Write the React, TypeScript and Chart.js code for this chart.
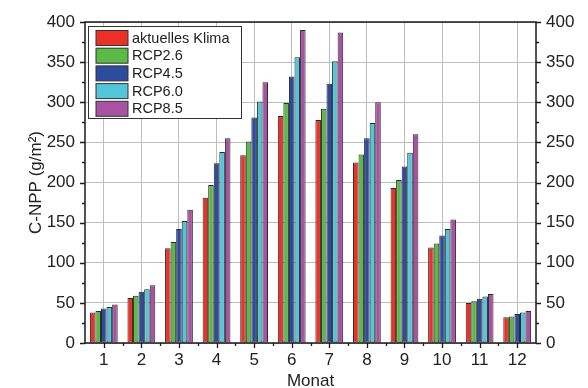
import React, { useEffect, useRef } from "react";
import { Chart, registerables } from "chart.js";

Chart.register(...registerables);

const months = ["1", "2", "3", "4", "5", "6", "7", "8", "9", "10", "11", "12"];
const seriesNames = ["aktuelles Klima", "RCP2.6", "RCP4.5", "RCP6.0", "RCP8.5"];
const seriesColors = ["#EC3127", "#5DB947", "#2E4C9E", "#52C5DA", "#A752A2"];
const aktuell = [38, 56, 118, 181, 234, 283, 278, 225, 193, 119, 50, 32];
const rcp26 = [40, 59, 126, 197, 251, 299, 292, 235, 203, 124, 52, 33];
const rcp45 = [43, 64, 142, 224, 281, 332, 323, 255, 220, 134, 55, 36];
const rcp60 = [45, 67, 152, 238, 301, 356, 351, 274, 237, 142, 58, 38];
const rcp85 = [48, 72, 166, 255, 325, 390, 387, 300, 260, 154, 61, 40];
const seriesValues = [aktuell, rcp26, rcp45, rcp60, rcp85];
const yTicks = [0, 50, 100, 150, 200, 250, 300, 350, 400];
const yMinorTicks = [25, 75, 125, 175, 225, 275, 325, 375];

const FONT = "'Liberation Sans', Arial, sans-serif";

const framePlugin = {
  id: "frameTicks",
  afterDraw(chart: any) {
    const ctx = chart.ctx;
    const { left, right, top, bottom } = chart.chartArea;
    const y = chart.scales.y;
    const x = chart.scales.x;
    ctx.save();
    ctx.strokeStyle = "#1a1a1a";
    ctx.lineWidth = 1.3;
    ctx.beginPath();
    for (const v of yTicks) {
      const py = Math.round(y.getPixelForValue(v)) + 0.5;
      ctx.moveTo(left - 5, py);
      ctx.lineTo(left, py);
      ctx.moveTo(right, py);
      ctx.lineTo(right + 5, py);
    }
    for (const v of yMinorTicks) {
      const py = Math.round(y.getPixelForValue(v)) + 0.5;
      ctx.moveTo(left - 3, py);
      ctx.lineTo(left, py);
      ctx.moveTo(right, py);
      ctx.lineTo(right + 3, py);
    }
    for (let i = 0; i < months.length; i++) {
      const px = Math.round(x.getPixelForValue(i)) + 0.5;
      ctx.moveTo(px, bottom);
      ctx.lineTo(px, bottom + 5);
      if (i > 0) {
        const pm = Math.round(x.getPixelForValue(i - 0.5)) + 0.5;
        ctx.moveTo(pm, bottom);
        ctx.lineTo(pm, bottom + 3);
      }
    }
    ctx.stroke();
    ctx.lineWidth = 1.5;
    ctx.strokeRect(left, top, right - left, bottom - top);

    // legend
    const lx = 88.5, ly = 26.5, lw = 153, lh = 92;
    ctx.fillStyle = "#ffffff";
    ctx.fillRect(lx, ly, lw, lh);
    ctx.strokeStyle = "#333333";
    ctx.lineWidth = 1;
    ctx.strokeRect(lx, ly, lw, lh);
    ctx.font = `14.5px ${FONT}`;
    ctx.textBaseline = "middle";
    ctx.textAlign = "left";
    for (let i = 0; i < seriesNames.length; i++) {
      const sy = 30.5 + i * 17.7;
      ctx.fillStyle = seriesColors[i];
      ctx.fillRect(96, sy, 32, 15);
      ctx.strokeStyle = "#333333";
      ctx.strokeRect(96, sy, 32, 15);
      ctx.fillStyle = "#222222";
      ctx.fillText(seriesNames[i], 132, sy + 8);
    }
    ctx.restore();
  },
};

export default function App() {
  const ref = useRef<HTMLCanvasElement | null>(null);
  useEffect(() => {
    if (!ref.current) return;
    const chart = new Chart(ref.current, {
      type: "bar",
      data: {
        labels: months,
        datasets: seriesNames.map((name, i) => ({
          label: name,
          data: seriesValues[i],
          backgroundColor: seriesColors[i],
          borderColor: "#2a2a2a",
          borderWidth: 1,
          borderSkipped: false,
          categoryPercentage: 0.74,
          barPercentage: 1.0,
          yAxisID: "y",
        })),
      },
      options: {
        animation: false,
        responsive: true,
        maintainAspectRatio: false,
        layout: { padding: { top: 22, left: 0, right: 0, bottom: 0 } },
        plugins: {
          legend: { display: false },
          tooltip: { enabled: false },
        },
        scales: {
          x: {
            offset: true,
            grid: { offset: false, color: "#bdbdbd", lineWidth: 1, drawTicks: false },
            border: { display: false },
            ticks: { color: "#222", font: { family: FONT, size: 17 }, padding: 7, maxRotation: 0, autoSkip: false },
            title: { display: true, text: "Monat", color: "#222", font: { family: FONT, size: 17 }, padding: { top: 0, bottom: -4 } },
            afterFit: (s: any) => { s.height = 45; },
          },
          y: {
            position: "left",
            min: 0,
            max: 400,
            grid: { color: "#bdbdbd", lineWidth: 1, drawTicks: false },
            border: { display: false },
            ticks: { stepSize: 50, color: "#222", font: { family: FONT, size: 17 }, padding: 10 },
            title: { display: true, text: "C-NPP (g/m²)", color: "#222", font: { family: FONT, size: 17 }, padding: { top: 26, bottom: 0 } },
            afterFit: (s: any) => { s.width = 85; },
          },
          y2: {
            position: "right",
            min: 0,
            max: 400,
            grid: { display: false, drawTicks: false },
            border: { display: false },
            ticks: { stepSize: 50, color: "#222", font: { family: FONT, size: 17 }, padding: 10 },
            afterFit: (s: any) => { s.width = 52; },
          },
        },
      },
      plugins: [framePlugin],
    });
    return () => chart.destroy();
  }, []);
  return (
    <div style={{ position: "fixed", left: 0, top: 0, width: 588, height: 388, background: "#fff" }}>
      <canvas ref={ref} />
    </div>
  );
}
